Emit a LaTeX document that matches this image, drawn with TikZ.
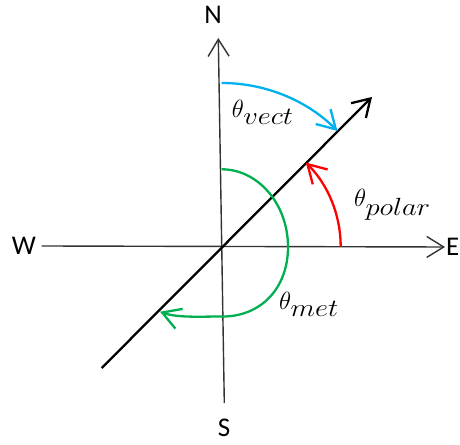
\documentclass[tikz,border=0pt]{standalone}
\usepackage{fontspec}
\usepackage{graphicx}
\setmainfont{Carlito}
\usetikzlibrary{arrows.meta}
\definecolor{pblue}{RGB}{0,176,240}
\definecolor{pgreen}{RGB}{0,176,80}
\definecolor{pred}{RGB}{255,0,0}
\tikzset{
  axis/.style={line width=1.4pt, draw=black!80, -{Straight Barb[length=17pt,width=21pt,line width=1.4pt]}},
  vec/.style={line width=2.3pt, draw=black, -{Straight Barb[length=17pt,width=21pt]}},
  angarc/.style={line width=2.3pt, -{Straight Barb[length=18pt,width=21pt]}},
  dirlabel/.style={inner sep=0pt, font=\fontsize{27}{30}\selectfont},
  anglabel/.style={inner sep=0pt, anchor=base west}
}
\newcommand{\angtext}[1]{\fontsize{30}{34}\selectfont$\theta_{\mbox{\scalebox{1.15}[1]{\fontsize{25}{28}\selectfont$#1$}}}$}
\begin{document}
\begin{tikzpicture}[x=1pt,y=1pt]
\useasboundingbox (0,0) rectangle (460,444);
\coordinate (C) at (221.7,197.3);
\coordinate (Sbot) at (224.3,41);
\coordinate (Ntop) at (218.3,406);
\coordinate (Wend) at (41.7,198);
\coordinate (Etip) at (445,197);
\coordinate (Dlow) at (101.7,76);
\coordinate (Dtip) at (372,347);
% axes
\draw[axis] (Sbot) -- (Ntop);
\draw[axis] (Wend) -- (Etip);
% vector
\draw[vec] (Dlow) -- (Dtip);
% angle arcs
\draw[angarc, draw=pblue] (C) ++(90:163.7) arc[start angle=90, end angle=45, radius=163.7];
\draw[angarc, draw=pred] (C) ++(0:119) arc[start angle=0, end angle=45, radius=119];
\draw[angarc, draw=pgreen] (221.7,274.7) .. controls (258,274.7) and (288,240) .. (288,197)
  .. controls (288,155) and (260,127.5) .. (223,127.5)
  .. controls (200,127.5) and (177,126) .. (160,132.3);
% direction labels
\node[dirlabel] (N) at (213,429) {N};
\node[dirlabel] (S) at (224,16.5) {S};
\node[dirlabel] (W) at (24,198) {W};
\node[dirlabel, anchor=east] (E) at (459.5,197) {E};
% angle labels
\node[anglabel] (tv) at (231.7,326) {\angtext{vect}};
\node[anglabel] (tp) at (354,237.3) {\angtext{polar}};
\node[anglabel] (tm) at (279,134) {\angtext{met}};
\end{tikzpicture}
\end{document}
